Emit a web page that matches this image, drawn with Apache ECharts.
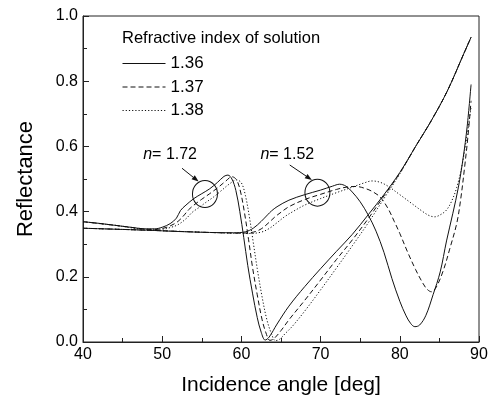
<!DOCTYPE html>
<html>
<head>
<meta charset="utf-8">
<script src="https://cdn.jsdelivr.net/npm/echarts@6/dist/echarts.min.js"></script>
<style>
  html, body { margin: 0; padding: 0; background: #fff; }
  #chart { width: 501px; height: 402px; }
</style>
</head>
<body>
<div id="chart"></div>
<script>
// prism n = 1.72, solution index 1.36 / 1.37 / 1.38
var angle172a = [40, 42, 44, 46, 48, 49, 50, 51, 51.8, 52.3, 53, 54, 55, 56, 57, 57.8, 58.3, 58.8, 59.3, 59.8, 60.3, 60.8, 61.4, 62, 62.5, 63, 63.5, 64.5, 66, 68, 70, 72, 74, 76, 78, 80, 82, 84, 86, 88, 89];
var refl172a  = [0.369, 0.364, 0.358, 0.352, 0.347, 0.347, 0.352, 0.363, 0.38, 0.403, 0.42, 0.44, 0.455, 0.47, 0.49, 0.508, 0.512, 0.5, 0.465, 0.40, 0.32, 0.235, 0.15, 0.075, 0.03, 0.006, 0.015, 0.055, 0.11, 0.17, 0.225, 0.278, 0.33, 0.39, 0.452, 0.52, 0.6, 0.68, 0.77, 0.88, 0.935];

var angle172b = [40, 44, 48, 49, 50, 51, 52, 52.8, 53.3, 54, 55, 56, 57, 58, 58.8, 59.4, 59.9, 60.4, 60.9, 61.4, 62, 62.6, 63.1, 63.6, 64.1, 65, 66, 68, 70, 72, 74, 76, 78, 80, 82, 84, 86, 88, 89];
var refl172b  = [0.369, 0.358, 0.346, 0.345, 0.348, 0.356, 0.37, 0.39, 0.405, 0.42, 0.438, 0.455, 0.473, 0.493, 0.507, 0.497, 0.46, 0.395, 0.315, 0.23, 0.145, 0.07, 0.028, 0.005, 0.01, 0.035, 0.068, 0.128, 0.19, 0.253, 0.313, 0.378, 0.448, 0.518, 0.6, 0.68, 0.77, 0.88, 0.935];

var angle172c = [40, 44, 48, 50, 51, 52, 53, 53.8, 54.5, 55.5, 56.5, 57.5, 58.5, 59.4, 60, 60.5, 61, 61.5, 62, 62.6, 63.2, 63.8, 64.3, 64.8, 65.5, 66.5, 68, 70, 72, 74, 76, 78, 80, 82, 84, 86, 88, 89];
var refl172c  = [0.369, 0.358, 0.346, 0.346, 0.351, 0.36, 0.378, 0.398, 0.41, 0.428, 0.445, 0.465, 0.485, 0.497, 0.488, 0.45, 0.385, 0.305, 0.225, 0.14, 0.07, 0.025, 0.004, 0.008, 0.025, 0.05, 0.095, 0.16, 0.227, 0.295, 0.365, 0.44, 0.516, 0.6, 0.68, 0.77, 0.88, 0.935];

// prism n = 1.52
var angle152a = [40, 44, 48, 52, 56, 59, 60.5, 61.5, 62.5, 63.3, 63.8, 64.5, 66, 68, 70, 71.5, 72.4, 73.2, 74, 75, 76, 77, 78, 79, 80, 80.8, 81.4, 81.9, 82.5, 83.3, 84.2, 85.1, 85.9, 86.7, 87.4, 88, 88.5, 89];
var refl152a  = [0.349, 0.346, 0.343, 0.339, 0.336, 0.335, 0.338, 0.349, 0.37, 0.39, 0.402, 0.415, 0.435, 0.452, 0.466, 0.478, 0.484, 0.478, 0.46, 0.43, 0.39, 0.34, 0.275, 0.195, 0.125, 0.08, 0.056, 0.047, 0.052, 0.082, 0.145, 0.215, 0.31, 0.395, 0.475, 0.565, 0.66, 0.79];

var angle152b = [40, 48, 56, 60, 61.5, 62.5, 63.5, 64.2, 65, 66, 68, 70, 72, 73.5, 74.5, 75.5, 76.5, 77.5, 78.5, 79.3, 80, 81, 82, 82.8, 83.4, 84, 84.6, 85.5, 86.3, 87.2, 87.7, 88.2, 88.6, 89];
var refl152b  = [0.349, 0.343, 0.336, 0.334, 0.337, 0.347, 0.367, 0.383, 0.398, 0.415, 0.437, 0.453, 0.468, 0.476, 0.477, 0.472, 0.462, 0.445, 0.41, 0.37, 0.333, 0.275, 0.222, 0.185, 0.163, 0.154, 0.168, 0.22, 0.285, 0.365, 0.44, 0.54, 0.63, 0.74];

var angle152c = [40, 48, 56, 61, 62.5, 63.5, 64.5, 65.5, 66.5, 68, 70, 72, 74, 75.5, 76.5, 77.5, 78.5, 80, 81.5, 82.9, 83.7, 84.4, 85.1, 85.9, 86.6, 87.2, 87.8, 88.4, 89];
var refl152c  = [0.349, 0.343, 0.336, 0.333, 0.337, 0.348, 0.366, 0.385, 0.4, 0.42, 0.44, 0.458, 0.475, 0.488, 0.494, 0.49, 0.478, 0.452, 0.425, 0.4, 0.388, 0.384, 0.39, 0.405, 0.435, 0.475, 0.535, 0.62, 0.72];

var solutionNames = ['1.36', '1.37', '1.38'];

var FONT = '"Liberation Sans", Arial, sans-serif';
var INK = '#111';
var dashes = ['solid', [5, 3], [1.2, 2]];

function zip(xs, ys) {
  return xs.map(function (x, i) { return [x, ys[i]]; });
}

function curve(name, xs, ys, k) {
  return {
    name: name,
    type: 'line',
    data: zip(xs, ys),
    smooth: 0.35,
    symbol: 'none',
    silent: true,
    lineStyle: { color: INK, width: 1, type: dashes[k] },
    itemStyle: { color: INK }
  };
}

var myChart = echarts.init(document.getElementById('chart'));
var option = {
  animation: false,
  textStyle: { fontFamily: FONT },
  title: {
    text: 'Refractive index of solution',
    left: 122,
    top: 30,
    padding: 0,
    textStyle: { fontSize: 16.5, fontWeight: 'normal', color: '#000', fontFamily: FONT }
  },
  legend: {
    data: solutionNames,
    orient: 'vertical',
    left: 122,
    top: 55,
    padding: 0,
    itemWidth: 43,
    itemHeight: 14,
    itemGap: 6.5,
    selectedMode: false,
    itemStyle: { opacity: 0 },
    lineStyle: { width: 1 },
    textStyle: { fontSize: 17, color: '#000', fontFamily: FONT }
  },
  grid: {
    left: 83, right: 22, top: 16, bottom: 60,
    show: true, borderColor: '#222', borderWidth: 1
  },
  xAxis: {
    type: 'value',
    min: 40, max: 90, interval: 10,
    name: 'Incidence angle [deg]',
    nameLocation: 'middle',
    nameGap: 33,
    nameTextStyle: { fontSize: 21, color: '#000', fontFamily: FONT },
    axisLine: { lineStyle: { color: '#222' } },
    axisTick: { inside: true, length: 6, lineStyle: { color: '#222' } },
    minorTick: { show: true, splitNumber: 2, length: 4, lineStyle: { color: '#222' } },
    axisLabel: { fontSize: 16, color: '#000', margin: 5 },
    splitLine: { show: false }
  },
  yAxis: {
    type: 'value',
    min: 0, max: 1, interval: 0.2,
    name: 'Reflectance',
    nameLocation: 'middle',
    nameGap: 46,
    nameTextStyle: { fontSize: 22, color: '#000', fontFamily: FONT },
    axisLine: { lineStyle: { color: '#222' } },
    axisTick: { inside: true, length: 6, lineStyle: { color: '#222' } },
    minorTick: { show: true, splitNumber: 2, length: 4, lineStyle: { color: '#222' } },
    axisLabel: { fontSize: 16, color: '#000', margin: 5, formatter: function (v) { return v.toFixed(1); } },
    splitLine: { show: false }
  },
  series: [
    curve(solutionNames[0], angle172a, refl172a, 0),
    curve(solutionNames[1], angle172b, refl172b, 1),
    curve(solutionNames[2], angle172c, refl172c, 2),
    curve(solutionNames[0], angle152a, refl152a, 0),
    curve(solutionNames[1], angle152b, refl152b, 1),
    curve(solutionNames[2], angle152c, refl152c, 2)
  ]
};
myChart.setOption(option);

// annotations: label, arrow and circle, placed in data coordinates
var notes = [
  { label: '1.72', text: [47.6, 0.574], from: [52.5, 0.533], to: [54.6, 0.492], ring: [55.4, 0.454] },
  { label: '1.52', text: [62.4, 0.574], from: [66.1, 0.543], to: [68.9, 0.497], ring: [69.6, 0.458] }
];

function px(p) { return myChart.convertToPixel({ gridIndex: 0 }, p); }

var graphics = [];
notes.forEach(function (n) {
  var t = px(n.text), a = px(n.from), b = px(n.to), c = px(n.ring);
  graphics.push({
    type: 'text', x: t[0], y: t[1], silent: true,
    style: {
      text: '{i|n}= ' + n.label,
      fill: '#000', font: '16px ' + FONT, verticalAlign: 'middle',
      rich: { i: { fontStyle: 'italic', fontSize: 16, fontFamily: FONT } }
    }
  });
  var dx = b[0] - a[0], dy = b[1] - a[1], len = Math.sqrt(dx * dx + dy * dy);
  var ux = dx / len, uy = dy / len;
  var hl = 7, hw = 2.6;
  var bx = b[0] - ux * hl, by = b[1] - uy * hl;
  graphics.push({
    type: 'line', silent: true,
    shape: { x1: a[0], y1: a[1], x2: bx, y2: by },
    style: { stroke: INK, lineWidth: 1 }
  });
  graphics.push({
    type: 'polygon', silent: true,
    shape: { points: [[b[0], b[1]], [bx - uy * hw, by + ux * hw], [bx + uy * hw, by - ux * hw]] },
    style: { fill: INK }
  });
  graphics.push({
    type: 'circle', silent: true,
    x: c[0], y: c[1], scaleY: 1.08,
    shape: { cx: 0, cy: 0, r: 12.5 },
    style: { fill: 'none', stroke: INK, lineWidth: 1 }
  });
});
myChart.setOption({ graphic: graphics });
</script>
</body>
</html>
